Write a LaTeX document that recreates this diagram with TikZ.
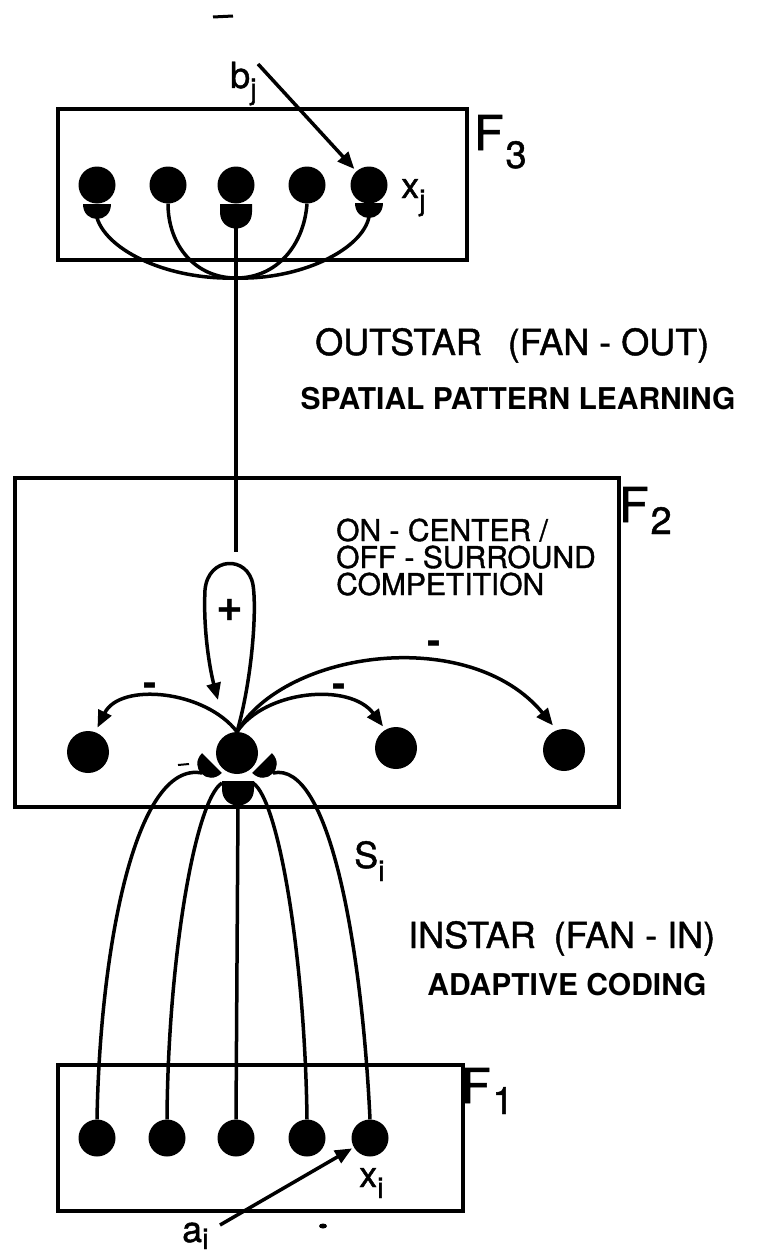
\documentclass[tikz,border=0pt]{standalone}
\usepackage{fontspec}
\setmainfont{TeX Gyre Heros}
\newfontfamily\scanfont{TeX Gyre Heros}[FakeBold=1.2]
\usetikzlibrary{arrows.meta}
\newcommand{\fsz}[1]{\fontsize{#1}{#1}\selectfont}
\begin{document}
\begin{tikzpicture}[x=1pt,y=-1pt,
  frame/.style={line width=3.3pt},
  wire/.style={line width=3.5pt},
  arr/.style={wire,-{Triangle[length=17pt,width=14pt]}},
  cell/.style={circle,fill=black,inner sep=0pt,minimum size=37pt},
  bigcell/.style={circle,fill=black,inner sep=0pt,minimum size=42pt},
  lab/.style={inner sep=0pt,anchor=base west},
  title/.style={inner sep=0pt,anchor=base},
  sign/.style={inner sep=0pt,font=\bfseries\fsz{40}},
  cup/.pic={\fill (-14,0) -- (14,0) .. controls (14,20) and (-14,20) .. cycle;},
  widecup/.pic={\fill (-16,0) -- (16,0) -- (16,8) .. controls (16,30) and (-16,30) .. (-16,8) -- cycle;}
]
\fill[white] (0,0) rectangle (768,1255);
\useasboundingbox (0,0) rectangle (768,1255);

% layer frames
\draw[frame] (58,109) rectangle (467,260);
\draw[frame] (15,478) rectangle (619,807);
\draw[frame] (58,1065) rectangle (463,1211);

% F3 cells
\node[cell] (t1) at (97,185) {};
\node[cell] (t2) at (168,185) {};
\node[cell] (t3) at (236,185) {};
\node[cell] (t4) at (307,185) {};
\node[cell] (t5) at (369,185) {};

% F2 cells
\node[bigcell] (l1) at (88,752) {};
\node[bigcell] (h) at (237,753) {};
\node[bigcell] (r1) at (396,748) {};
\node[bigcell] (r2) at (564,750) {};

% F1 cells
\node[cell] (b1) at (97,1138) {};
\node[cell] (b2) at (167,1138) {};
\node[cell] (b3) at (236,1138) {};
\node[cell] (b4) at (307,1138) {};
\node[cell] (b5) at (370,1138) {};

% outstar synapses and fan-out
\pic at (97,204) {cup};
\pic at (236,204) {widecup};
\pic at (369,203) {cup};
\coordinate (s1) at (97,218);
\coordinate (s3) at (236,228);
\coordinate (s5) at (369,217);
\coordinate (hub) at (236,278);
\coordinate (drop) at (236,552);
\draw[wire] (s1) .. controls (108,252) and (170,280) .. (hub);
\draw[wire] (t2.south) .. controls (168,245) and (195,278) .. (hub);
\draw[wire] (t4.south) .. controls (304,245) and (277,278) .. (hub);
\draw[wire] (s5) .. controls (362,250) and (300,280) .. (hub);
\draw[wire] (s3) -- (hub) -- (drop);

% external input b_j
\node[lab,font=\scanfont\fsz{36}] (bj) at (230,88) {b\raisebox{-11pt}{\fsz{29}j}};
\coordinate (btail) at (258,64);
\draw[arr,shorten >=3pt] (btail) -- (t5);
\node[lab,font=\scanfont\fsz{36}] (xj) at (401,198) {x\raisebox{-12pt}{\fsz{29}j}};

% on-center self excitation
\coordinate (loopend) at (218,700);
\draw[arr] (h.north) .. controls (252,680) and (257,610) .. (253,585)
  .. controls (248,555) and (208,556) .. (205,590)
  .. controls (203,630) and (210,670) .. (loopend);
\node[inner sep=0pt,font=\bfseries\fsz{46}] (plus) at (230,610) {+};

% off-surround inhibition
\draw[arr,shorten >=5pt] (h.north) .. controls (205,690) and (120,682) .. (l1.70);
\draw[arr,shorten >=4pt] (h.north) .. controls (265,690) and (350,682) .. (r1.120);
\draw[arr,shorten >=6pt] (h.north) .. controls (285,650) and (470,625) .. (r2.110);
\node[sign] (m1) at (150,690) {-};
\node[sign] (m2) at (339,691) {-};
\node[sign] (m3) at (434,648) {-};

% instar synapses on the F2 cell
\pic[rotate=-45] at (212,763) {cup};
\pic[rotate=45] at (262,763) {cup};
\pic at (238,781) {widecup};
\coordinate (in1) at (202,773);
\coordinate (in2) at (222,783);
\coordinate (in3) at (238,806);
\coordinate (in4) at (253,783);
\coordinate (in5) at (273,773);

% fan-in from F1
\draw[wire] (b1.north) .. controls (100,950) and (135,760) .. (in1);
\draw[wire] (b2.north) .. controls (168,960) and (195,800) .. (in2);
\draw[wire] (b3.north) -- (in3);
\draw[wire] (b4.north) .. controls (305,960) and (279,800) .. (in4);
\draw[wire] (b5.north) .. controls (362,950) and (330,760) .. (in5);

% input a_i
\node[lab,font=\scanfont\fsz{36}] (si) at (354,868) {S\raisebox{-13pt}{\fsz{29}i}};
\node[lab,font=\scanfont\fsz{36}] (xi) at (359,1187) {x\raisebox{-11pt}{\fsz{29}i}};
\node[lab,font=\scanfont\fsz{36}] (ai) at (182,1242) {a\raisebox{-7pt}{\fsz{29}i}};
\coordinate (atail) at (220,1225);
\draw[arr,shorten >=2pt] (atail) -- (b5);

% captions
\node[lab,font=\scanfont\fsz{36}] (outstar) at (315,355) {OUTSTAR\hspace{26pt}(FAN - OUT)};
\node[title,font=\bfseries\fsz{30}] (spatial) at (518,409) {SPATIAL PATTERN LEARNING};
\node[lab,font=\scanfont\fsz{30}] (on1) at (336,541) {ON - CENTER /};
\node[lab,font=\scanfont\fsz{30}] (on2) at (336,568) {OFF - SURROUND};
\node[lab,font=\scanfont\fsz{30}] (on3) at (336,595) {COMPETITION};
\node[lab,font=\scanfont\fsz{36}] (instar) at (408,948) {INSTAR\hspace{18pt}(FAN - IN)};
\node[title,font=\bfseries\fsz{30}] (adaptive) at (567,995) {ADAPTIVE CODING};

% layer names
\node[lab,font=\scanfont\fsz{48}] (f3) at (474,150) {F\hspace{2pt}\raisebox{-18pt}{\fsz{38}3}};
\node[lab,font=\scanfont\fsz{48}] (f2) at (619,522) {F\hspace{2pt}\raisebox{-12pt}{\fsz{38}2}};
\node[lab,font=\scanfont\fsz{48}] (f1) at (461,1103) {F\hspace{2pt}\raisebox{-11pt}{\fsz{38}1}};

% stray marks
\draw[line width=3pt] (213,17) -- (233,16);
\draw[line width=2pt] (178,765) -- (189,764);
\fill (323,1226) ellipse [x radius=4pt, y radius=2.5pt];
\end{tikzpicture}
\end{document}
